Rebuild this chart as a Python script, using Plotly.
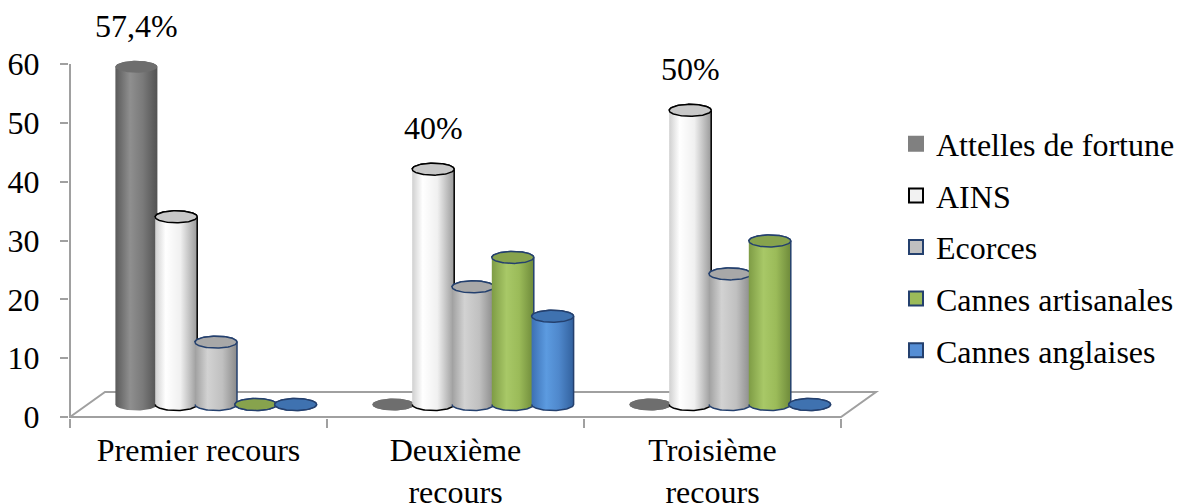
import numpy as np
import plotly.graph_objects as go

# ---- data -------------------------------------------------------------
categories = ["Premier recours", "Deuxième<br>recours", "Troisième<br>recours"]
series_names = ["Attelles de fortune", "AINS", "Ecorces", "Cannes artisanales", "Cannes anglaises"]
attelles = [57.4, 0, 0]
ains = [31.9, 40, 50]
ecorces = [10.6, 20, 22.2]
cannes_artisanales = [0, 25, 27.8]
cannes_anglaises = [0, 15, 0]
y_ticks = [0, 10, 20, 30, 40, 50, 60]

series_values = [attelles, ains, ecorces, cannes_artisanales, cannes_anglaises]

# ---- styling ----------------------------------------------------------
FONT = "Liberation Serif"
AXIS_GREY = "#a0a0a0"
NAVY = "#24406e"
styles = [
    dict(grad=[[0, "#5a5a5a"], [0.35, "#8f8f8f"], [0.65, "#7a7a7a"], [1, "#525252"]],
         cap="#6e6e6e", line=None, legend="#808080", legend_line="#808080"),
    dict(grad=[[0, "#d0d0d0"], [0.25, "#ffffff"], [0.6, "#f0f0f0"], [1, "#9a9a9a"]],
         cap="#c8c8c8", line="#000000", legend="#f2f2f2", legend_line="#000000"),
    dict(grad=[[0, "#a0a0a0"], [0.3, "#d2d2d2"], [0.65, "#c0c0c0"], [1, "#8a8a8a"]],
         cap="#a8a8a8", line=NAVY, legend="#c0c0c0", legend_line=NAVY),
    dict(grad=[[0, "#7e9c45"], [0.35, "#a8c867"], [0.65, "#9bbb59"], [1, "#6e8a3a"]],
         cap="#87a34d", line=NAVY, legend="#9bbb59", legend_line=NAVY),
    dict(grad=[[0, "#3c70b4"], [0.35, "#5c9be0"], [0.65, "#4f88cc"], [1, "#32619e"]],
         cap="#3f72b0", line=NAVY, legend="#558ed5", legend_line=NAVY),
]

# ---- page geometry (pixels) -------------------------------------------
W, H = 1177, 504
PLOT_L, PLOT_R, PLOT_T, PLOT_B = 69, 885, 18, 418
X0_PX, Y0_PX = 70, 417          # where x=0 / y=0 fall
UX = (841 - 70) / 3             # px per category
UY = (417 - 64) / 60            # px per percentage point

x_range = [(PLOT_L - X0_PX) / UX, (PLOT_R - X0_PX) / UX]
y_range = [(Y0_PX - PLOT_B) / UY, (Y0_PX - PLOT_T) / UY]

# 3-D floor depth and cylinder proportions, in axis units
DX = 35 / UX
DY = 25 / UY
PITCH = 39.8 / UX
A = 21 / UX          # cylinder half-width
B = 6 / UY           # half-height of the elliptical cap
n_groups = len(categories)
n_series = len(series_names)

fig = go.Figure()

t_low = np.linspace(np.pi, 2 * np.pi, 60)
t_up = np.linspace(0, np.pi, 60)
t_full = np.linspace(0, 2 * np.pi, 120)
base = DY / 2

for s, (name, vals) in enumerate(zip(series_names, series_values)):
    st = styles[s]
    line = dict(color=st["line"], width=1.5) if st["line"] else dict(width=0)
    for g, v in enumerate(vals):
        cx = g + 0.5 + DX / 2 + (s - (n_series - 1) / 2) * PITCH
        top = base + v
        bx = np.concatenate([cx + A * np.cos(t_low), cx + A * np.cos(t_up)])
        by = np.concatenate([base + B * np.sin(t_low), top + B * np.sin(t_up)])
        fig.add_trace(go.Scatter(
            x=bx, y=by, mode="lines", fill="toself",
            fillgradient=dict(type="horizontal", colorscale=st["grad"]),
            line=line, hoverinfo="skip", showlegend=False,
            legendgroup=name,
        ))
        fig.add_trace(go.Scatter(
            x=cx + A * np.cos(t_full), y=top + B * np.sin(t_full),
            mode="lines", fill="toself", fillcolor=st["cap"],
            line=line, hoverinfo="skip", showlegend=False,
            legendgroup=name,
        ))
    # legend entry
    fig.add_trace(go.Scatter(
        x=[None], y=[None], mode="markers", name=name, legendgroup=name,
        marker=dict(symbol="square", size=14, color=st["legend"],
                    line=dict(color=st["legend_line"], width=2)),
    ))

# value labels above the tallest cylinder of each group
for g in range(n_groups):
    col = [vals[g] for vals in series_values]
    s = int(np.argmax(col))
    v = col[s]
    cx = g + 0.5 + DX / 2 + (s - (n_series - 1) / 2) * PITCH
    txt = f"{v:g}".replace(".", ",") + "%"
    fig.add_annotation(x=cx, y=base + v, text=txt, showarrow=False,
                       yshift=41, yanchor="middle",
                       font=dict(family=FONT, size=32, color="black"))

# floor and axis lines
floor = (f"M 0,0 L {DX},{DY} L {n_groups + DX},{DY} L {n_groups},0 Z")
fig.add_shape(type="path", path=floor, xref="x", yref="y",
              line=dict(color=AXIS_GREY, width=2), fillcolor="white", layer="below")
fig.add_shape(type="line", x0=0, x1=0, y0=0, y1=max(y_ticks), xref="x", yref="y",
              line=dict(color=AXIS_GREY, width=2), layer="below")

fig.update_layout(
    width=W, height=H,
    margin=dict(l=PLOT_L, r=W - PLOT_R, t=PLOT_T, b=H - PLOT_B, pad=0,
                autoexpand=False),
    paper_bgcolor="white", plot_bgcolor="white",
    font=dict(family=FONT, size=32, color="black"),
    showlegend=True,
    legend=dict(
        x=(896 - PLOT_L) / (PLOT_R - PLOT_L), xanchor="left",
        y=(PLOT_B - 247) / (PLOT_B - PLOT_T), yanchor="middle",
        font=dict(family=FONT, size=32, color="black"),
        tracegroupgap=7, traceorder="grouped",
        bgcolor="rgba(0,0,0,0)",
    ),
    xaxis=dict(
        range=x_range, showgrid=False, zeroline=False, showline=False,
        automargin=False,
        tickmode="array", tickvals=[g + 0.5 for g in range(n_groups)],
        ticktext=categories, ticks="", ticklabelstandoff=10,
        tickfont=dict(family=FONT, size=32, color="black"),
        minor=dict(tickmode="array", tickvals=list(range(n_groups + 1)),
                   ticks="outside", ticklen=9, tickwidth=2, tickcolor=AXIS_GREY,
                   showgrid=False),
        fixedrange=True,
    ),
    yaxis=dict(
        range=y_range, showgrid=False, zeroline=False, showline=False,
        automargin=False,
        tickmode="array", tickvals=y_ticks, ticks="outside", ticklen=8,
        tickwidth=2, tickcolor=AXIS_GREY, ticklabelstandoff=14,
        tickfont=dict(family=FONT, size=32, color="black"),
        fixedrange=True,
    ),
)

fig.write_html("out.html")
